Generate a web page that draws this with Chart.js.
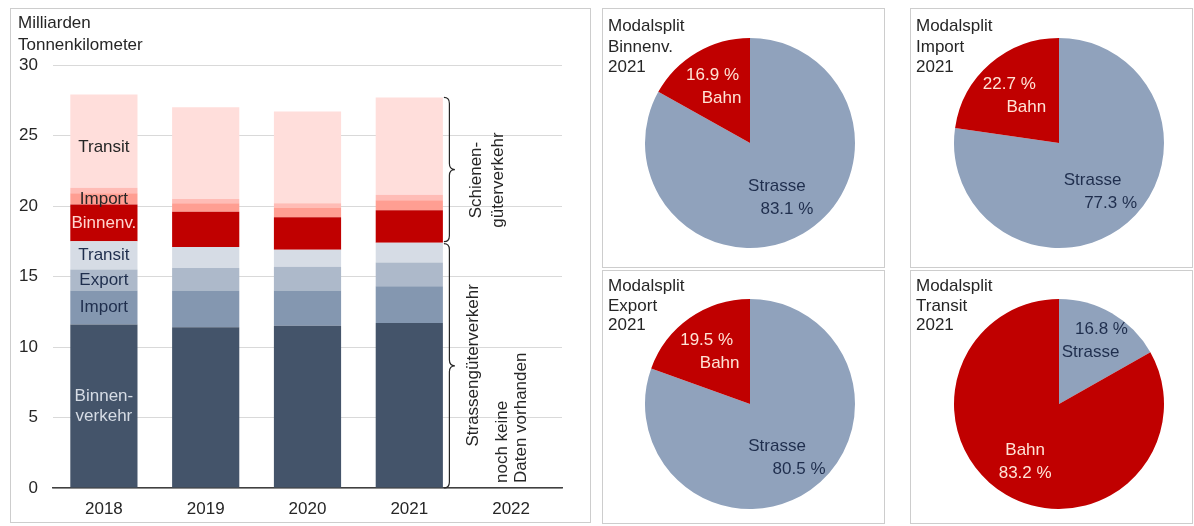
<!DOCTYPE html>
<html>
<head>
<meta charset="utf-8">
<script src="https://cdn.jsdelivr.net/npm/chart.js@4/dist/chart.umd.min.js"></script>
<style>
  body { margin: 0; background: #fff; }
  #wrap { position: relative; width: 1194px; height: 526px; font-family: 'Liberation Sans', Arial, sans-serif; color: #262626; }
  .box { position: absolute; border: 1px solid #cdcdcd; box-sizing: border-box; }
  canvas { position: absolute; }
  .title { position: absolute; font-size: 17px; line-height: 20px; white-space: pre; }
</style>
</head>
<body>
<div id="wrap">
  <div class="box" style="left:10px;top:8px;width:581px;height:515px"></div>
  <div class="box" style="left:602px;top:8px;width:283px;height:260px"></div>
  <div class="box" style="left:910px;top:8px;width:283px;height:260px"></div>
  <div class="box" style="left:602px;top:270px;width:283px;height:254px"></div>
  <div class="box" style="left:910px;top:270px;width:283px;height:254px"></div>

  <canvas id="bars" width="580" height="514" style="left:10px;top:8px"></canvas>
  <canvas id="pie0" width="282" height="259" style="left:602px;top:8px"></canvas>
  <canvas id="pie1" width="282" height="259" style="left:910px;top:8px"></canvas>
  <canvas id="pie2" width="282" height="253" style="left:602px;top:270px"></canvas>
  <canvas id="pie3" width="282" height="253" style="left:910px;top:270px"></canvas>

  <div class="title" style="left:18px;top:12px;line-height:22px">Milliarden
Tonnenkilometer</div>
  <div class="title" id="t0" style="left:608px;top:16px;line-height:20.5px"></div>
  <div class="title" id="t1" style="left:916px;top:16px;line-height:20.5px"></div>
  <div class="title" id="t2" style="left:608px;top:276px;line-height:19.5px"></div>
  <div class="title" id="t3" style="left:916px;top:276px;line-height:19.5px"></div>
</div>
<script>
// Gueterverkehr Schweiz, Milliarden Tonnenkilometer
const years = ['2018', '2019', '2020', '2021', '2022'];

// Strassengueterverkehr
const strasseBinnen  = [11.6, 11.4, 11.5, 11.7, null];
const strasseImport  = [2.4, 2.6, 2.5, 2.6, null];
const strasseExport  = [1.5, 1.6, 1.7, 1.7, null];
const strasseTransit = [2.0, 1.5, 1.2, 1.4, null];

// Schienengueterverkehr
const bahnBinnen  = [2.6, 2.5, 2.3, 2.3, null];
const bahnImport  = [0.8, 0.6, 0.7, 0.7, null];
const bahnExport  = [0.4, 0.3, 0.3, 0.4, null];
const bahnTransit = [6.6, 6.5, 6.5, 6.9, null];

const yTicks = [0, 5, 10, 15, 20, 25, 30];

// Modalsplit 2021 (%)
const pieNames = ['Binnenv.', 'Import', 'Export', 'Transit'];
const pieYear = '2021';
const strasseShare = [83.1, 77.3, 80.5, 16.8];
const bahnShare = [16.9, 22.7, 19.5, 83.2];

const FONT = "'Liberation Sans', Arial, sans-serif";
Chart.defaults.font.family = FONT;
Chart.defaults.font.size = 17;
Chart.defaults.color = '#262626';

const colors = ['#44546a', '#8497b0', '#adb9ca', '#d6dce5', '#c00000', '#ff9e92', '#ffbcb6', '#ffdedb'];
const barLabels = [['Binnen-', 'verkehr'], ['Import'], ['Export'], ['Transit'], ['Binnenv.'], ['Import'], [], ['Transit']];
const barLabelColors = ['#d6dce5', '#1f2e4d', '#1f2e4d', '#1f2e4d', '#ffd5cf', '#262626', '#262626', '#262626'];
const seriesData = [strasseBinnen, strasseImport, strasseExport, strasseTransit, bahnBinnen, bahnImport, bahnExport, bahnTransit];
const seriesNames = ['Strasse Binnenverkehr', 'Strasse Import', 'Strasse Export', 'Strasse Transit',
                     'Bahn Binnenverkehr', 'Bahn Import', 'Bahn Export', 'Bahn Transit'];

function drawBrace(ctx, x, y1, y2, w) {
    const xm = x + w / 2, xt = x + w, ym = (y1 + y2) / 2, r = 6;
    ctx.beginPath();
    ctx.moveTo(x, y1);
    ctx.quadraticCurveTo(xm, y1, xm, y1 + r);
    ctx.lineTo(xm, ym - r);
    ctx.quadraticCurveTo(xm, ym, xt, ym);
    ctx.quadraticCurveTo(xm, ym, xm, ym + r);
    ctx.lineTo(xm, y2 - r);
    ctx.quadraticCurveTo(xm, y2, x, y2);
    ctx.stroke();
}

function rotText(ctx, lines, x, y, gap, align) {
    lines.forEach((t, i) => {
        ctx.save();
        ctx.translate(x + i * gap, y);
        ctx.rotate(-Math.PI / 2);
        ctx.textAlign = align;
        ctx.textBaseline = 'middle';
        ctx.fillText(t, 0, 0);
        ctx.restore();
    });
}

const barDecor = {
    id: 'barDecor',
    afterDatasetsDraw(chart) {
        const ctx = chart.ctx;
        ctx.save();
        ctx.font = '17px ' + FONT;
        ctx.textAlign = 'center';
        ctx.textBaseline = 'middle';
        // labels in the 2018 bar
        chart.data.datasets.forEach((ds, i) => {
            const el = chart.getDatasetMeta(i).data[0];
            const lines = barLabels[i];
            let cy = (el.y + el.base) / 2;
            if (i === 7) cy += 6; // Transit label sits a bit low in the original
            ctx.fillStyle = barLabelColors[i];
            lines.forEach((t, k) => {
                ctx.fillText(t, el.x, cy + (k - (lines.length - 1) / 2) * 20);
            });
        });

        // braces next to the 2021 bar
        const last = 3;
        const road = chart.getDatasetMeta(3).data[last];
        const rail = chart.getDatasetMeta(7).data[last];
        const x0 = road.x + road.width / 2 + 1;
        const y0 = chart.scales.y.getPixelForValue(0);
        ctx.strokeStyle = '#262626';
        ctx.lineWidth = 1.2;
        drawBrace(ctx, x0, road.y + 1, y0, 11);
        drawBrace(ctx, x0, rail.y, road.y - 1, 11);

        ctx.fillStyle = '#262626';
        rotText(ctx, ['Schienen-', 'güterverkehr'], x0 + 32, (rail.y + road.y) / 2 + 10, 22, 'center');
        rotText(ctx, ['Strassengüterverkehr'], x0 + 29, (road.y + y0) / 2, 0, 'center');

        const x22 = chart.scales.x.getPixelForValue(4);
        rotText(ctx, ['noch keine', 'Daten vorhanden'], x22 - 9, y0 - 5, 19, 'left');
        ctx.restore();
    }
};

new Chart(document.getElementById('bars'), {
    type: 'bar',
    data: {
        labels: years,
        datasets: seriesData.map((d, i) => ({
            label: seriesNames[i],
            data: d,
            backgroundColor: colors[i],
            borderWidth: 0,
            categoryPercentage: 1,
            barPercentage: 0.66
        }))
    },
    options: {
        responsive: false,
        animation: false,
        layout: { padding: { top: 57, right: 28, left: 0, bottom: 0 } },
        plugins: { legend: { display: false }, tooltip: { enabled: false } },
        scales: {
            x: {
                stacked: true,
                grid: { display: false },
                border: { color: '#404040', width: 1.5 },
                ticks: { padding: 3, color: '#262626' },
                afterFit: s => { s.height = 34; }
            },
            y: {
                stacked: true,
                min: yTicks[0],
                max: yTicks[yTicks.length - 1],
                afterBuildTicks: s => { s.ticks = yTicks.map(v => ({ value: v })); },
                grid: { color: '#d9d9d9', drawTicks: false, lineWidth: 1 },
                border: { display: false },
                ticks: { padding: 15, color: '#262626' },
                afterFit: s => { s.width = 43; }
            }
        }
    },
    plugins: [barDecor]
});

// pies
const piePads = [
    { left: 43, right: 29, top: 30, bottom: 19 },
    { left: 44, right: 28, top: 30, bottom: 19 },
    { left: 43, right: 29, top: 29, bottom: 14 },
    { left: 44, right: 28, top: 29, bottom: 14 }
];
// [strasse, bahn] : percent line first?, distance factor, x stagger
const pieLabelLayout = [
    [{ pctFirst: false, f: 0.6, s: 10 }, { pctFirst: true, f: 0.62, s: 9 }],
    [{ pctFirst: false, f: 0.62, s: 18 }, { pctFirst: true, f: 0.6, s: 17 }],
    [{ pctFirst: false, f: 0.63, s: 22 }, { pctFirst: true, f: 0.61, s: 13 }],
    [{ pctFirst: true, f: 0.7, s: -11 }, { pctFirst: false, f: 0.64, s: 0 }]
];
const pieTextColors = ['#1f2e4d', '#ffe3d6'];

pieNames.forEach((name, p) => {
    document.getElementById('t' + p).textContent = 'Modalsplit\n' + name + '\n' + pieYear;

    const pieText = {
        id: 'pieText' + p,
        afterDatasetsDraw(chart) {
            const ctx = chart.ctx;
            const ds = chart.data.datasets[0];
            ctx.save();
            ctx.font = '17px ' + FONT;
            ctx.textAlign = 'center';
            ctx.textBaseline = 'middle';
            chart.getDatasetMeta(0).data.forEach((arc, i) => {
                const lay = pieLabelLayout[p][i];
                const a = (arc.startAngle + arc.endAngle) / 2;
                const d = arc.outerRadius * lay.f;
                const ax = arc.x + Math.cos(a) * d;
                const ay = arc.y + Math.sin(a) * d;
                const pct = ds.data[i].toFixed(1) + ' %';
                const lines = lay.pctFirst ? [pct, chart.data.labels[i]] : [chart.data.labels[i], pct];
                ctx.fillStyle = pieTextColors[i];
                ctx.fillText(lines[0], ax - lay.s / 2, ay - 11.5);
                ctx.fillText(lines[1], ax + lay.s / 2, ay + 11.5);
            });
            ctx.restore();
        }
    };

    new Chart(document.getElementById('pie' + p), {
        type: 'pie',
        data: {
            labels: ['Strasse', 'Bahn'],
            datasets: [{
                data: [strasseShare[p], bahnShare[p]],
                backgroundColor: ['#90a2bc', '#c00000'],
                borderWidth: 0,
                hoverOffset: 0
            }]
        },
        options: {
            responsive: false,
            animation: false,
            layout: { padding: piePads[p] },
            plugins: { legend: { display: false }, tooltip: { enabled: false } }
        },
        plugins: [pieText]
    });
});
</script>
</body>
</html>
